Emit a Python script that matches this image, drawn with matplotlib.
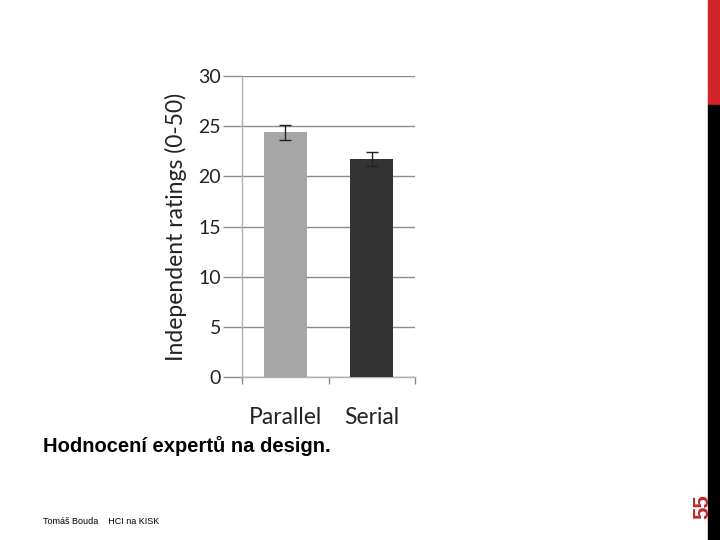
import numpy as np
import matplotlib.pyplot as plt

# data
categories = ['Parallel', 'Serial']
ratings = [24.4, 21.7]
errors = [0.75, 0.7]
bar_colors = ['#a6a6a6', '#333333']
yticks = [0, 5, 10, 15, 20, 25, 30]

W, H = 720, 540
fig = plt.figure(figsize=(7.2, 5.4), dpi=100)

# chart axes placed in pixel coordinates of the slide
ax = fig.add_axes([242 / W, 1 - 377 / H, 173 / W, 301 / H])
x = np.arange(len(categories))
ax.bar(x, ratings, width=0.5, color=bar_colors, zorder=3)
ax.errorbar(x, ratings, yerr=errors, fmt='none', ecolor='#222222',
            elinewidth=1, capsize=4, capthick=1, zorder=4)

ax.set_xlim(-0.5, 1.5)
ax.set_ylim(0, 30)
ax.set_yticks(yticks)
ax.set_yticklabels([str(t) for t in yticks], fontsize=14, color='#222222',
                   family='Lato')
ax.yaxis.grid(True, color='#8c8c8c', linewidth=1, zorder=0)
ax.tick_params(axis='y', length=14, width=1, color='#8c8c8c', pad=1)

ax.set_xticks([-0.5, 0.5, 1.5])
ax.set_xticklabels([])
ax.tick_params(axis='x', length=5, width=1, color='#8c8c8c')
for xi, name in zip(x, categories):
    ax.text(xi, -4.0, name, ha='center', va='center', fontsize=16.5,
            color='#222222', family='Lato')

for side in ['top', 'right']:
    ax.spines[side].set_visible(False)
for side in ['left', 'bottom']:
    ax.spines[side].set_color('#b0b0b0')
    ax.spines[side].set_linewidth(1)

ax.set_ylabel('Independent ratings (0-50)', fontsize=16.5, color='#222222',
              family='Lato', labelpad=8)

# slide texts
fig.text(43 / W, 1 - 446 / H, 'Hodnocení expertů na design.', fontsize=14.5,
         fontweight='bold', family='Liberation Sans', va='center', ha='left')
fig.text(43 / W, 1 - 522 / H, 'Tomáš Bouda    HCI na KISK', fontsize=6.5,
         family='Liberation Sans', va='center', ha='left')

# side bar with page number
fig.patches.append(plt.Rectangle((708 / W, 1 - 105 / H), 12 / W, 105 / H,
                                 transform=fig.transFigure, color='#d2232a'))
fig.patches.append(plt.Rectangle((708 / W, 0), 12 / W, 1 - 105 / H,
                                 transform=fig.transFigure, color='#000000'))
fig.text(703 / W, 1 - 507 / H, '55', fontsize=16, fontweight='bold',
         color='#c0282d', rotation=90, ha='center', va='center',
         family='Liberation Sans')

fig.savefig('out.png', dpi=100)
